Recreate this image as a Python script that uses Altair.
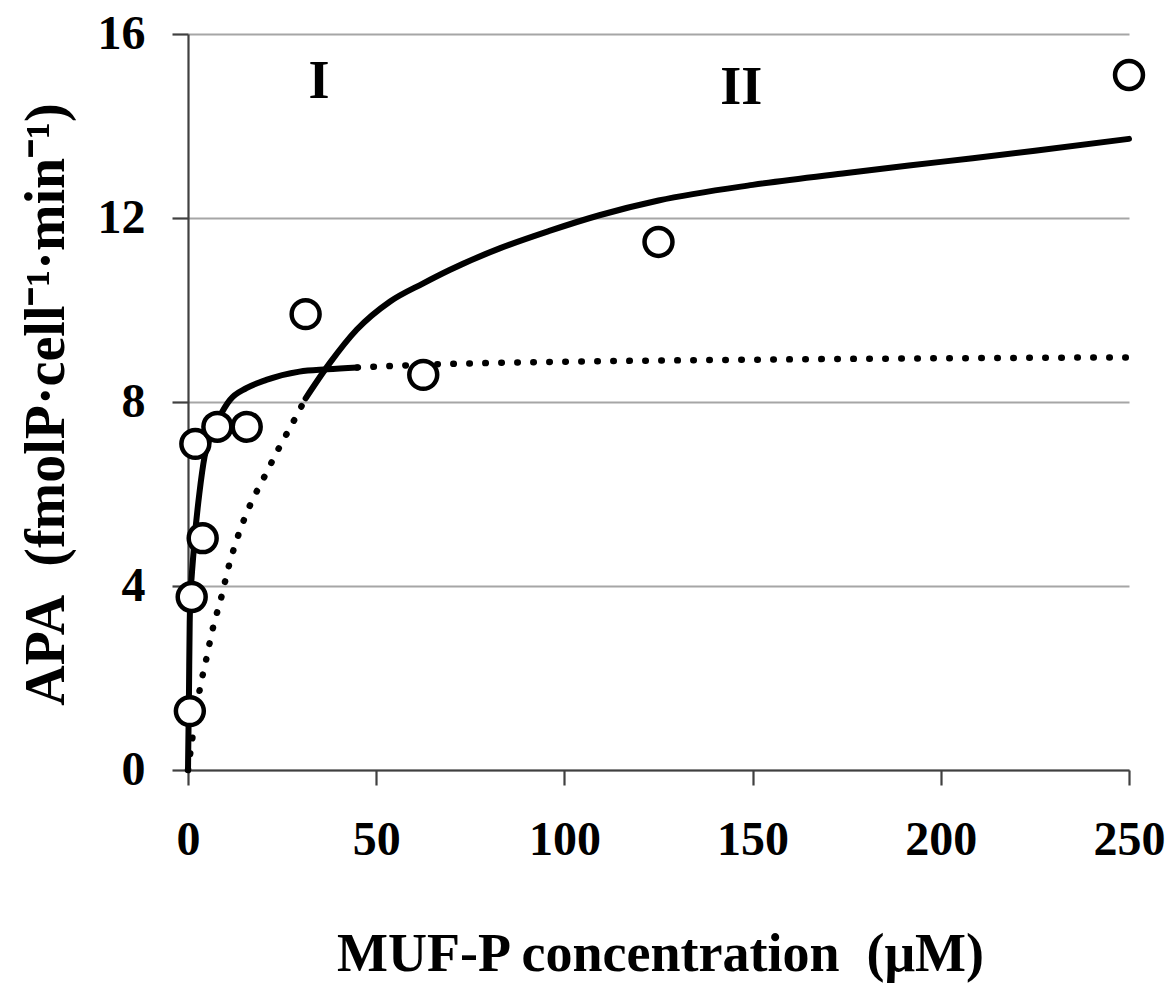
import altair as alt
import pandas as pd

# Measured alkaline phosphatase activity vs. substrate concentration
conc = [0.49, 0.98, 1.95, 3.9, 7.8, 15.6, 31.25, 62.5, 125, 250]
apa = [1.28, 3.76, 7.09, 5.04, 7.46, 7.46, 9.91, 8.59, 11.48, 15.11]

# Phase I kinetic fit (solid part, low concentrations)
fit1_s = [0, 0.25, 0.45, 0.75, 1.2, 1.8, 3.0, 4.4, 6.0, 8.4, 11.1, 15.5, 20.8, 29.6, 37, 45]
fit1_v = [0, 1.6, 3.2, 3.9, 4.45, 5.07, 6.0, 6.81, 7.25, 7.68, 8.04, 8.30, 8.48, 8.66, 8.71, 8.75]

# Phase I fit extended to high concentrations (dotted)
fit1x_s = [45, 62.5, 96, 150, 200, 250]
fit1x_v = [8.75, 8.81, 8.87, 8.92, 8.95, 8.97]

# Phase II kinetic fit (solid part, high concentrations)
fit2_s = [31.25, 37.7, 44.8, 53.6, 62.5, 69.5, 82.8, 96, 109.3, 125, 150, 175, 200, 225, 250]
fit2_v = [8.08, 8.85, 9.57, 10.18, 10.58, 10.87, 11.34, 11.72, 12.06, 12.38, 12.72, 12.98, 13.22, 13.46, 13.72]

# Phase II fit extended to low concentrations (dotted)
fit2x_s = [0, 1.2, 3.1, 4.8, 6.6, 8.9, 10.8, 13.3, 16.4, 20.2, 24.1, 28.1, 31.25]
fit2x_v = [0, 0.72, 1.74, 2.39, 3.08, 3.77, 4.42, 5.09, 5.74, 6.36, 6.99, 7.59, 8.08]

# Phase labels and their anchor points (data units)
phase_labels = ["I", "II"]
phase_s = [34.8, 147]
phase_v = [14.96, 14.83]

FONT = "Liberation Serif"
AXIS_COLOR = "#404040"

points = pd.DataFrame({"S": conc, "V": apa})

solid = pd.concat([
    pd.DataFrame({"S": fit1_s, "V": fit1_v, "curve": "I"}),
    pd.DataFrame({"S": fit2_s, "V": fit2_v, "curve": "II"}),
])
dotted = pd.concat([
    pd.DataFrame({"S": fit1x_s, "V": fit1x_v, "curve": "I"}),
    pd.DataFrame({"S": fit2x_s, "V": fit2x_v, "curve": "II"}),
])
labels = pd.DataFrame({"S": phase_s, "V": phase_v, "label": phase_labels})

x_enc = alt.X(
    "S:Q",
    scale=alt.Scale(domain=[0, 250], nice=False),
    axis=alt.Axis(
        values=[0, 50, 100, 150, 200, 250],
        grid=False,
        title="MUF-P concentration\u00a0 (\u03bcM)",
        titleFont=FONT, titleFontWeight="bold", titleFontSize=54, titleColor="black",
        titleBaseline="alphabetic", titleY=200, titleX=472,
        labelFont=FONT, labelFontWeight="bold", labelFontSize=48, labelColor="black",
        labelBaseline="alphabetic", labelPadding=69, labelFlush=False,
        tickSize=15, tickColor=AXIS_COLOR, tickWidth=2.2,
        domainColor=AXIS_COLOR, domainWidth=2.2,
    ),
)
y_enc = alt.Y(
    "V:Q",
    scale=alt.Scale(domain=[0, 16], nice=False),
    axis=alt.Axis(
        values=[0, 4, 8, 12, 16],
        grid=True, gridColor="#a6a6a6", gridWidth=2,
        title="APA\u00a0 (fmolP\u00b7cell\u207b\u00b9\u00b7min\u207b\u00b9)",
        titleFont=FONT, titleFontWeight="bold", titleFontSize=56, titleColor="black",
        titleBaseline="alphabetic", titleAngle=270, titleX=-125, titleY=370,
        labelFont=FONT, labelFontWeight="bold", labelFontSize=48, labelColor="black",
        labelPadding=27, labelFlush=False,
        tickSize=16, tickColor=AXIS_COLOR, tickWidth=2.2,
        domainColor=AXIS_COLOR, domainWidth=2.2,
    ),
)

solid_lines = alt.Chart(solid).mark_line(
    color="black", strokeWidth=6, strokeCap="round", interpolate="monotone"
).encode(x=x_enc, y=y_enc, detail="curve:N")

dotted_lines = alt.Chart(dotted).mark_line(
    color="black", strokeWidth=6.5, strokeCap="round", strokeDash=[0.5, 15.5],
    interpolate="monotone",
).encode(x=x_enc, y=y_enc, detail="curve:N")

circles = alt.Chart(points).mark_point(
    shape="circle", filled=True, fill="white", stroke="black",
    strokeWidth=4.5, size=780, opacity=1,
).encode(x=x_enc, y=y_enc)

phase_text = alt.Chart(labels).mark_text(
    font=FONT, fontWeight="bold", fontSize=54, color="black",
    align="center", baseline="middle",
).encode(x=x_enc, y=y_enc, text="label:N")

chart = alt.layer(dotted_lines, solid_lines, circles, phase_text).properties(
    width=941,
    height=736,
    autosize=alt.AutoSizeParams(type="none"),
    padding={"left": 188, "top": 34, "right": 40, "bottom": 214},
    background="white",
).configure_view(stroke=None)

chart.save("out.html", embed_options={"renderer": "svg", "actions": False})
